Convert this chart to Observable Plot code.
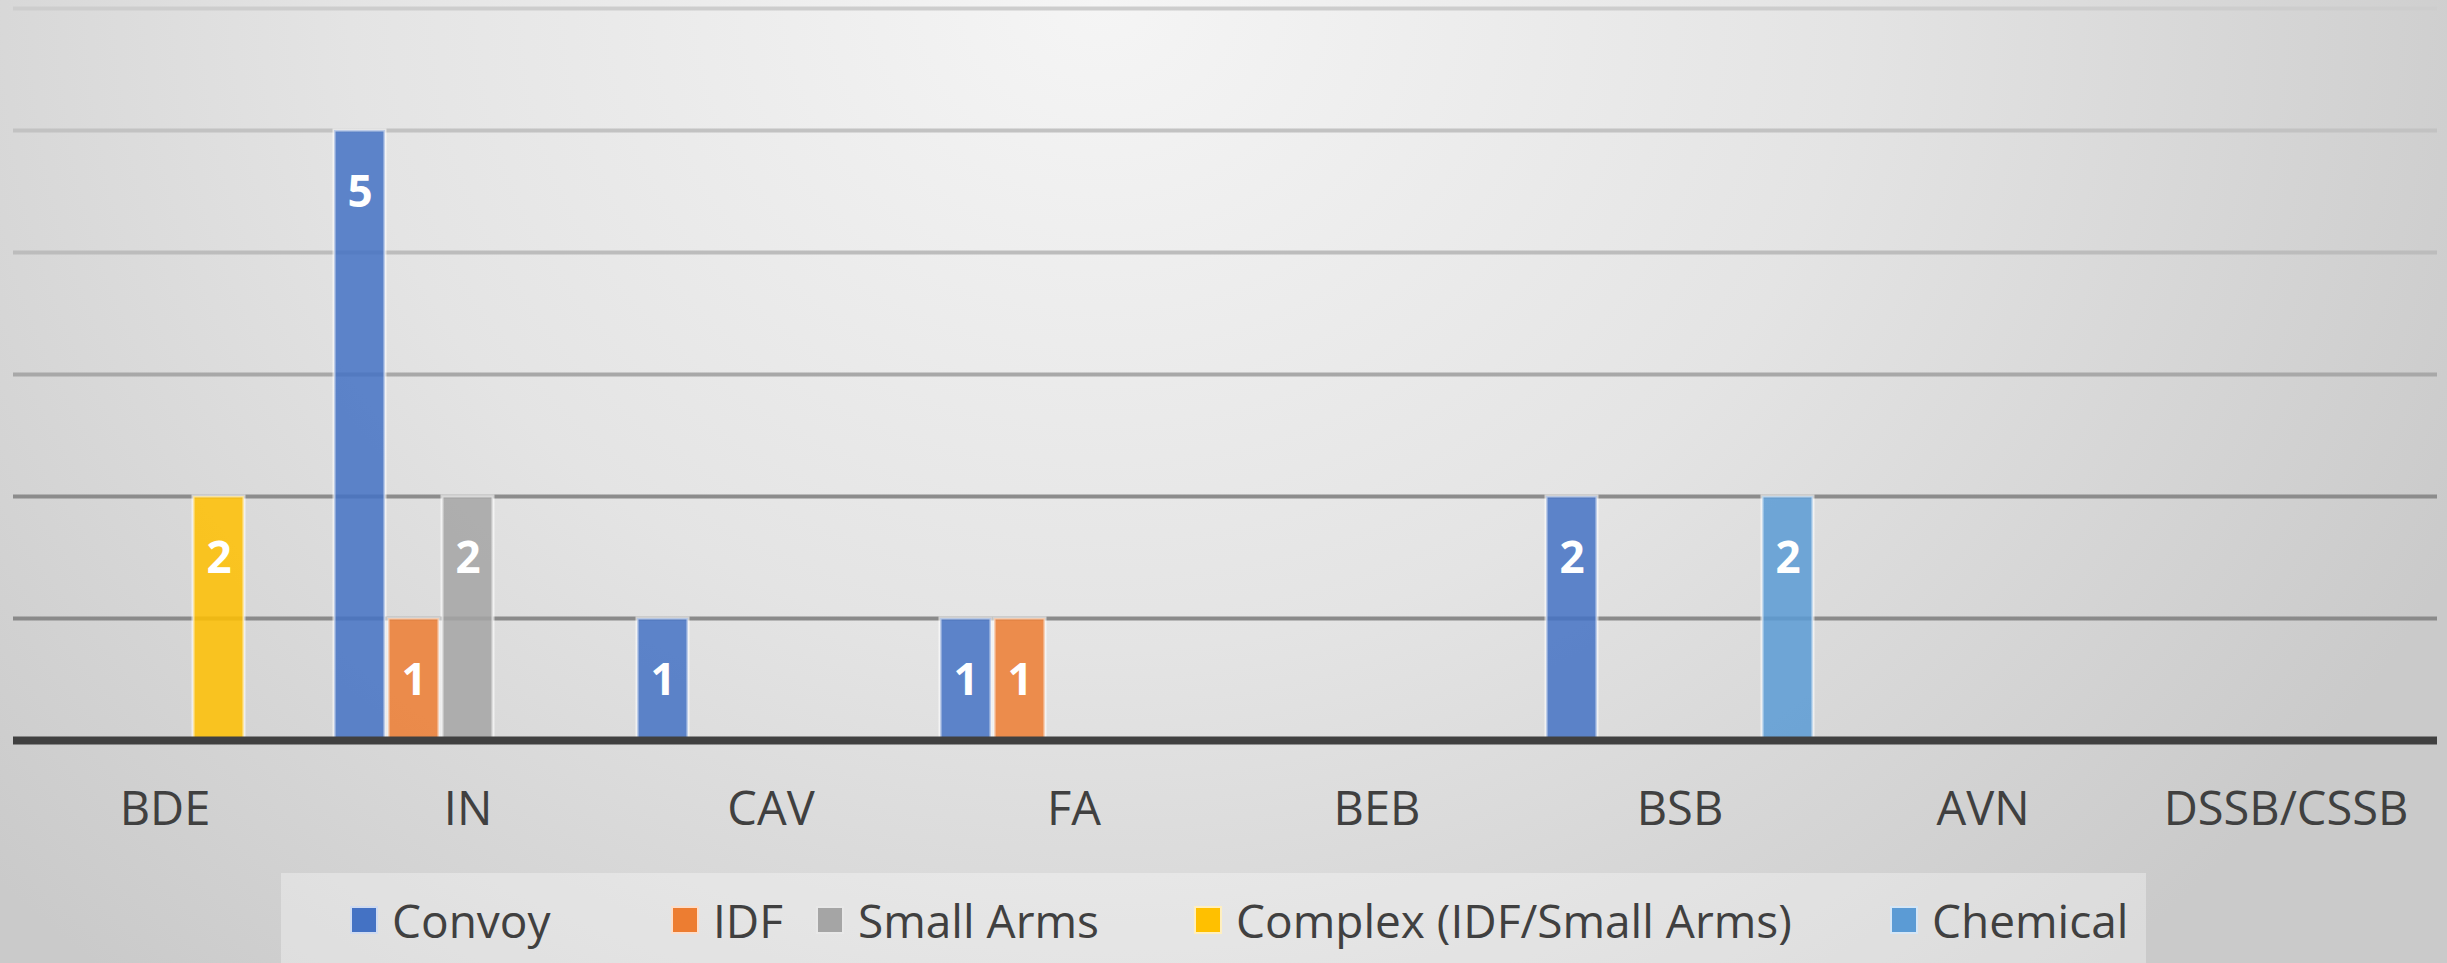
<!DOCTYPE html>
<html>
<head>
<meta charset="utf-8">
<script src="https://cdn.jsdelivr.net/npm/d3@7"></script>
<script src="https://cdn.jsdelivr.net/npm/@observablehq/plot@0.6"></script>
<style>
  html, body { margin: 0; padding: 0; }
  body {
    position: relative;
    width: 2447px; height: 963px; overflow: hidden;
    background: radial-gradient(ellipse 1500px 1300px at 1100px 0px, #f5f5f5 0%, #e4e4e4 50%, #cacaca 100%);
    font-family: "Open Sans", sans-serif;
  }
  #chart { position: absolute; left: 0; top: 0; }
  #legend {
    position: absolute; left: 281px; top: 873px; width: 1865px; height: 90px;
    background: rgba(255,255,255,0.33);
  }
  .item { position: absolute; top: 0; height: 94px; display: flex; align-items: center; white-space: nowrap; }
  .sw { width: 28px; height: 28px; box-sizing: border-box; border: 2px solid rgba(255,255,255,0.75); margin-right: 14px; }
  .lb { font-size: 46px; color: #404040; line-height: 1; }
</style>
</head>
<body>
<div id="chart"></div>
<div id="legend"></div>
<script>
const categories = ["BDE", "IN", "CAV", "FA", "BEB", "BSB", "AVN", "DSSB/CSSB"];
const seriesNames = ["Convoy", "IDF", "Small Arms", "Complex (IDF/Small Arms)", "Chemical"];
const convoy    = [0, 5, 1, 1, 0, 2, 0, 0];
const idf       = [0, 1, 0, 1, 0, 0, 0, 0];
const smallArms = [0, 2, 0, 0, 0, 0, 0, 0];
const complex   = [2, 0, 0, 0, 0, 0, 0, 0];
const chemical  = [0, 0, 0, 0, 0, 2, 0, 0];
const yTicks = [0, 1, 2, 3, 4, 5, 6];
const colors = ["#4472C4", "#ED7D31", "#A5A5A5", "#FFC000", "#5B9BD5"];
const gridColors = {1: "#8a8a8a", 2: "#8c8c8c", 3: "#a8a8a8", 4: "#bcbcbc", 5: "#c2c2c2", 6: "#cdcdcd"};

const seriesValues = [convoy, idf, smallArms, complex, chemical];
const rows = [];
seriesNames.forEach((s, i) => {
  categories.forEach((c, j) => {
    const v = seriesValues[i][j];
    if (v > 0) rows.push({category: c, series: s, value: v});
  });
});

const chart = Plot.plot({
  width: 2447,
  height: 873,
  marginLeft: 12,
  marginRight: 10,
  marginTop: 8,
  marginBottom: 133,
  style: {background: "transparent", fontFamily: "'Open Sans', sans-serif", overflow: "visible"},
  fx: {domain: categories, padding: 0, label: null, axis: null},
  x: {domain: seriesNames, paddingInner: 0.06, paddingOuter: 0.32, axis: null},
  y: {domain: [0, 6], axis: null},
  color: {domain: seriesNames, range: colors},
  marks: [
    ...yTicks.filter(v => v > 0).map(v =>
      Plot.ruleY(categories, {fx: d => d, y: () => v, stroke: gridColors[v], strokeWidth: 4})),
    Plot.barY(rows, {
      fx: "category", x: "series", y: "value", fill: "series",
      fillOpacity: 0.85, stroke: "#ffffff", strokeOpacity: 0.6, strokeWidth: 3
    }),
    Plot.text(rows, {
      fx: "category", x: "series", y: "value", text: d => String(d.value),
      dy: 62, fill: "white", fontWeight: "bold", fontSize: 44
    }),
    Plot.ruleY(categories, {fx: d => d, y: () => 0, stroke: "#404040", strokeWidth: 8}),
    Plot.axisFx({anchor: "bottom", tickSize: 0, tickPadding: 51, fontSize: 47, fill: "#404040", label: null})
  ]
});
document.getElementById("chart").appendChild(chart);

// Legend
const legendX = [69, 390, 535, 913, 1609];
const legend = document.getElementById("legend");
seriesNames.forEach((s, i) => {
  const item = document.createElement("div");
  item.className = "item";
  item.style.left = legendX[i] + "px";
  const sw = document.createElement("div");
  sw.className = "sw";
  sw.style.background = colors[i];
  const lb = document.createElement("span");
  lb.className = "lb";
  lb.textContent = s;
  item.appendChild(sw);
  item.appendChild(lb);
  legend.appendChild(item);
});
</script>
</body>
</html>
